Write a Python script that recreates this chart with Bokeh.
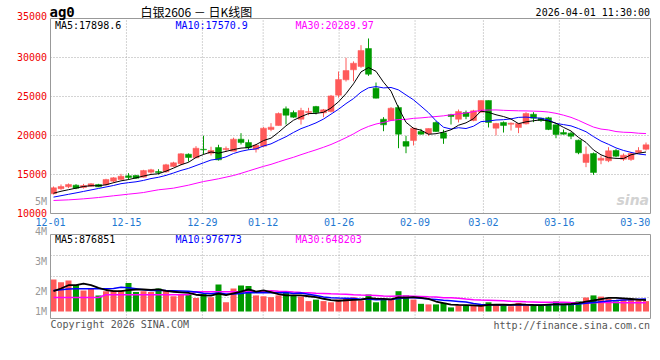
import numpy as np
from bokeh.plotting import figure
from bokeh.models import Label, Range1d, ColumnDataSource
from bokeh.embed import file_html
from bokeh.resources import INLINE

# ---------------- data ----------------
dates = ["12-01","12-02","12-03","12-04","12-05","12-08","12-09","12-10","12-11","12-12",
         "12-15","12-16","12-17","12-18","12-19","12-22","12-23","12-24","12-25","12-26",
         "12-29","12-30","12-31","01-05","01-06","01-07","01-08","01-09",
         "01-12","01-13","01-14","01-15","01-16","01-19","01-20","01-21","01-22","01-23",
         "01-26","01-27","01-28","01-29","01-30","02-02","02-03","02-04","02-05","02-06",
         "02-09","02-10","02-11","02-12","02-13","02-24","02-25","02-26","02-27",
         "03-02","03-03","03-04","03-05","03-06","03-09","03-10","03-11","03-12","03-13",
         "03-16","03-17","03-18","03-19","03-20","03-23","03-24","03-25","03-26","03-27",
         "03-30","03-31","04-01"]

open_ = [12525,13180,13420,13630,13330,13500,13720,13680,14150,14360,
         14830,14870,14660,15300,15380,15340,16020,16370,17600,17140,
         18240,17730,18460,18200,17990,19530,19100,18240,18630,20770,
         21280,23420,22950,22090,22950,23720,22910,23080,25170,27140,
         28420,28850,31150,26070,22090,21920,23590,19230,19360,20510,
         20220,21670,20340,22650,22090,22950,21920,22990,24490,20940,
         21670,21450,21030,21500,22730,22220,22270,21370,20380,20300,
         19400,16540,17690,16830,16760,18080,16960,16920,17820,18240]
close = [13295,13460,13720,13245,13590,13800,13420,14360,14570,14780,
         14615,14530,15510,15600,15250,16240,16500,17650,17180,18370,
         18160,18080,16880,18330,19530,19100,18420,18760,20940,21070,
         22820,22600,22350,23200,23080,22950,23290,25080,27180,28330,
         29270,30900,27860,24790,21370,23500,20170,18630,20940,20170,
         20900,20510,19650,22440,23080,22440,23160,24490,21670,21540,
         21280,21580,21540,22820,22220,21920,20770,20130,20170,19910,
         17780,17600,15260,17090,18040,17350,17480,17690,18080,18810]
high = [13460,13720,13850,13760,13800,13890,13800,14450,14650,15090,
        15170,14950,15600,15730,15680,16370,16630,17740,17700,18630,
        19960,18560,18810,18590,19720,20300,19480,18900,21070,21580,
        22950,23720,23200,23550,23550,23800,23400,25200,28200,29960,
        29500,31580,32440,26790,22350,23630,23850,19960,21000,20850,
        20900,21820,20730,22780,23330,23200,23290,24490,24490,21620,
        21800,21670,21620,22990,22990,22260,22390,21410,20770,20470,
        19470,18590,17820,17440,18500,18250,17690,17860,18500,19100]
low = [12440,13040,13250,13120,13200,13420,13380,13600,13930,14300,
       14320,14450,14620,15090,15000,15220,15940,16200,16650,17090,
       17560,17440,16790,17900,17990,18850,18170,17820,18500,20550,
       21280,21410,22270,21410,22600,22700,22350,22950,24850,26920,
       26960,28680,27650,24750,20550,21920,18370,17730,18720,20120,
       19960,20450,18930,21410,21670,22090,21830,22990,21030,20000,
       20380,20640,20300,21410,21710,21750,20690,19650,20120,19530,
       17600,15940,14960,16320,16580,17220,16750,16750,17730,18080]
volume = [2400000,2310000,2370000,2220000,2030000,2120000,1870000,2010000,2030000,2030000,
          2280000,1980000,2010000,1980000,2100000,2030000,1840000,1920000,1890000,1780000,
          1920000,1810000,2230000,1640000,2100000,2200000,2180000,1870000,1840000,1810000,
          1870000,1960000,1870000,1830000,1680000,1730000,1680000,1640000,1730000,1760000,
          1810000,1700000,1900000,1640000,1730000,1730000,2010000,1870000,1730000,1590000,
          1570000,1570000,1620000,1470000,1540000,1530000,1520000,1530000,1640000,1570000,
          1530000,1510000,1620000,1570000,1520000,1520000,1570000,1670000,1590000,1570000,
          1670000,1800000,1870000,1830000,1760000,1670000,1730000,1760000,1720000,1680000]

ma5_head = [12600, 12850, 13050, 13250]
ma10_head = [12100, 12280, 12460, 12640, 12830, 13020, 13210, 13400, 13590]
ma30_head = [11670, 11710, 11750, 11810, 11880, 11960, 12050, 12160, 12270, 12370,
             12480, 12580, 12690, 12870, 13040, 13140, 13250, 13440, 13630, 13870,
             14100, 14270, 14450, 14660, 14870, 15150, 15450, 15750, 16040]
vma5_head = [2010000, 2100000, 2210000, 2210000]
vma10_head = [2030000, 2060000, 2080000, 2090000, 2090000, 2090000, 2090000, 2090000, 2100000]
vma30_head = [1800000, 1800000, 1800000, 1800000, 1800000, 1800000, 1800000,
              1890000, 1890000, 1890000, 1890000, 1890000, 1890000, 1890000, 1890000,
              1890000, 1890000, 1890000, 1890000,
              1990000, 1990000, 1990000, 1990000, 1990000, 1990000, 1990000, 1990000,
              1990000, 1990000]

tick_labels = ["12-01", "12-15", "12-29", "01-12", "01-26", "02-09", "03-02", "03-16", "03-30"]
price_ticks = [10000, 15000, 20000, 25000, 30000, 35000]
vol_ticks = [1000000, 2000000, 3000000, 4000000, 5000000]
vol_tick_labels = ["1M", "2M", "3M", "4M", "5M"]
ma_texts = ["MA5:17898.6", "MA10:17570.9", "MA30:20289.97"]
vol_ma_texts = ["MA5:876851", "MA10:976773", "MA30:648203"]
symbol = "ag0"
title_text = "白银2606 － 日K线图"
stamp = "2026-04-01 11:30:00"
copyright_text = "Copyright 2026 SINA.COM"
site_text = "http://finance.sina.com.cn"

# ---------------- helpers ----------------
def sma(vals, n, head):
    v = np.asarray(vals, dtype=float)
    out = list(head)
    for i in range(n - 1, len(v)):
        out.append(v[i - n + 1:i + 1].mean())
    return out

N = len(dates)
RED, GREEN = "#ff5a5a", "#009a00"
MONO = "DejaVu Sans Mono"
GRIDC = "#a8a8a8"
FRAMEC = "#999999"

# canvas layout (px).  Price pane spans y 18..213, volume pane y 234..318,
# both panes span x 50..650 (7.5 px per candle slot).
W, H = 652, 340
PX_X = 7.5
PMIN, PMAX = price_ticks[0], price_ticks[-1]
P_TOP_PX, P_BOT_PX = 18, 213
VMIN, VMAX = 1100000, 3900000
V_TOP_PX, V_BOT_PX = 234, 318
VOL_BASE = 1333000
PPX = (PMAX - PMIN) / (P_BOT_PX - P_TOP_PX)     # price per px
VPX = (VMAX - VMIN) / (V_BOT_PX - V_TOP_PX)     # volume per px

def px2x(px):
    return (px - 50) / PX_X

def py2price(py):
    return PMIN + (P_BOT_PX - py) * PPX

def py2vol(py):
    return VMAX - (py - V_TOP_PX) * VPX

xs = np.arange(N) + 0.4
colors = [RED if c >= o else GREEN for o, c in zip(open_, close)]
src = ColumnDataSource(dict(x=xs, o=open_, c=close, h=high, l=low,
                            top=np.maximum(open_, close), bot=np.minimum(open_, close),
                            vol=volume, col=colors))
tick_pos = [dates.index(d) * N / (N - 1) for d in tick_labels]
grid_x = tick_pos[1:-1]

p = figure(width=W, height=H, output_backend="svg", toolbar_location=None,
           x_range=Range1d(px2x(0), px2x(W)),
           y_range=Range1d(py2price(H), py2price(0)),
           x_axis_location=None, y_axis_location=None,
           min_border=0, min_border_left=0, min_border_right=0,
           min_border_top=0, min_border_bottom=0)
p.extra_y_ranges = {"vol": Range1d(py2vol(H), py2vol(0))}
p.outline_line_color = None
p.grid.visible = False
p.background_fill_color = "white"
p.border_fill_color = "white"

# ---- gridlines (dotted) ----
gy = price_ticks[1:-1]
p.segment(x0=[0] * len(gy), y0=gy, x1=[N] * len(gy), y1=gy,
          line_color=GRIDC, line_dash="1 2", line_width=1)
p.segment(x0=grid_x, y0=[PMIN] * len(grid_x), x1=grid_x, y1=[PMAX] * len(grid_x),
          line_color=GRIDC, line_dash="1 2", line_width=1)
vgy = [VMIN + k * (VMAX - VMIN) / 4 for k in (1, 2, 3)]
p.segment(x0=[0] * 3, y0=vgy, x1=[N] * 3, y1=vgy, line_color=GRIDC,
          line_dash="1 2", line_width=1, y_range_name="vol")
p.segment(x0=grid_x, y0=[VMIN] * len(grid_x), x1=grid_x, y1=[VMAX] * len(grid_x),
          line_color=GRIDC, line_dash="1 2", line_width=1, y_range_name="vol")

# ---- candles ----
p.segment(x0="x", y0="l", x1="x", y1="h", color="col", line_width=1, source=src)
p.vbar(x="x", width=0.8, top="top", bottom="bot", fill_color="col", line_color="col",
       line_width=0.5, source=src)
p.line(xs, sma(close, 30, ma30_head), color="#ff00ff", line_width=1)
p.line(xs, sma(close, 10, ma10_head), color="#0000ff", line_width=1)
p.line(xs, sma(close, 5, ma5_head), color="#000000", line_width=1)

# ---- volume ----
p.vbar(x="x", width=0.8, top="vol", bottom=VOL_BASE, fill_color="col", line_color=None,
       source=src, y_range_name="vol")
p.line(xs, sma(volume, 30, vma30_head), color="#ff00ff", line_width=1.5, y_range_name="vol")
p.line(xs, sma(volume, 10, vma10_head), color="#0000ff", line_width=1.5, y_range_name="vol")
p.line(xs, sma(volume, 5, vma5_head), color="#000000", line_width=1.8, y_range_name="vol")

# ---- pane frames ----
p.quad(left=[0], right=[N], bottom=[PMIN], top=[PMAX], fill_color=None,
       line_color=FRAMEC, line_width=1)
p.quad(left=[0], right=[N], bottom=[VMIN], top=[VMAX], fill_color=None,
       line_color=FRAMEC, line_width=1, y_range_name="vol")

# ---- texts ----
def lab(text, x, y, color="#000000", size="10px", font=MONO, align="left",
        style="normal", rng="default"):
    p.add_layout(Label(x=x, y=y, text=text, text_color=color, text_font=font,
                       text_font_size=size, text_align=align, text_baseline="middle",
                       text_font_style=style, y_range_name=rng))

LBL_X = px2x(46.5)
for t in price_ticks[:-1]:
    lab(str(t), LBL_X, t + 1 * PPX, color="#f00000", align="right")
lab(str(price_ticks[-1]), LBL_X, PMAX + 2.5 * PPX, color="#f00000", align="right")

# volume scale labels (30 px per 1M); the lowest one sits on the bar baseline
for t, v in zip(vol_tick_labels, vol_ticks):
    yv = max(v, VOL_BASE)
    lab(t, LBL_X, yv, color="#999999", align="right", rng="vol")

for t, xp in zip(tick_labels, tick_pos):
    lab(t, xp, py2price(221.5), color="#1e78d2", align="center")

lab(symbol, px2x(49), py2price(11), size="14px", style="bold")
lab(title_text, px2x(140), py2price(11), size="12px", font="Noto Sans CJK SC")
lab(stamp, px2x(649.5), py2price(11.5), align="right")

for t, px, c in zip(ma_texts, (54.5, 175, 295), ("#000000", "#0000ff", "#ff00ff")):
    lab(t, px2x(px), py2price(24.7), color=c)
for t, px, c in zip(vol_ma_texts, (54.5, 175, 295), ("#000000", "#0000ff", "#ff00ff")):
    lab(t, px2x(px), py2vol(238.7), color=c, rng="vol")

lab("sina", px2x(616), py2price(199), color="#d2d2d2", size="14px",
    font="DejaVu Sans", style="bold italic")

lab(copyright_text, px2x(50), py2vol(323.8), color="#555555", rng="vol")
lab(site_text, px2x(649.5), py2vol(324.5), color="#555555", align="right", rng="vol")

open("out.html", "w").write(file_html(p, INLINE))
